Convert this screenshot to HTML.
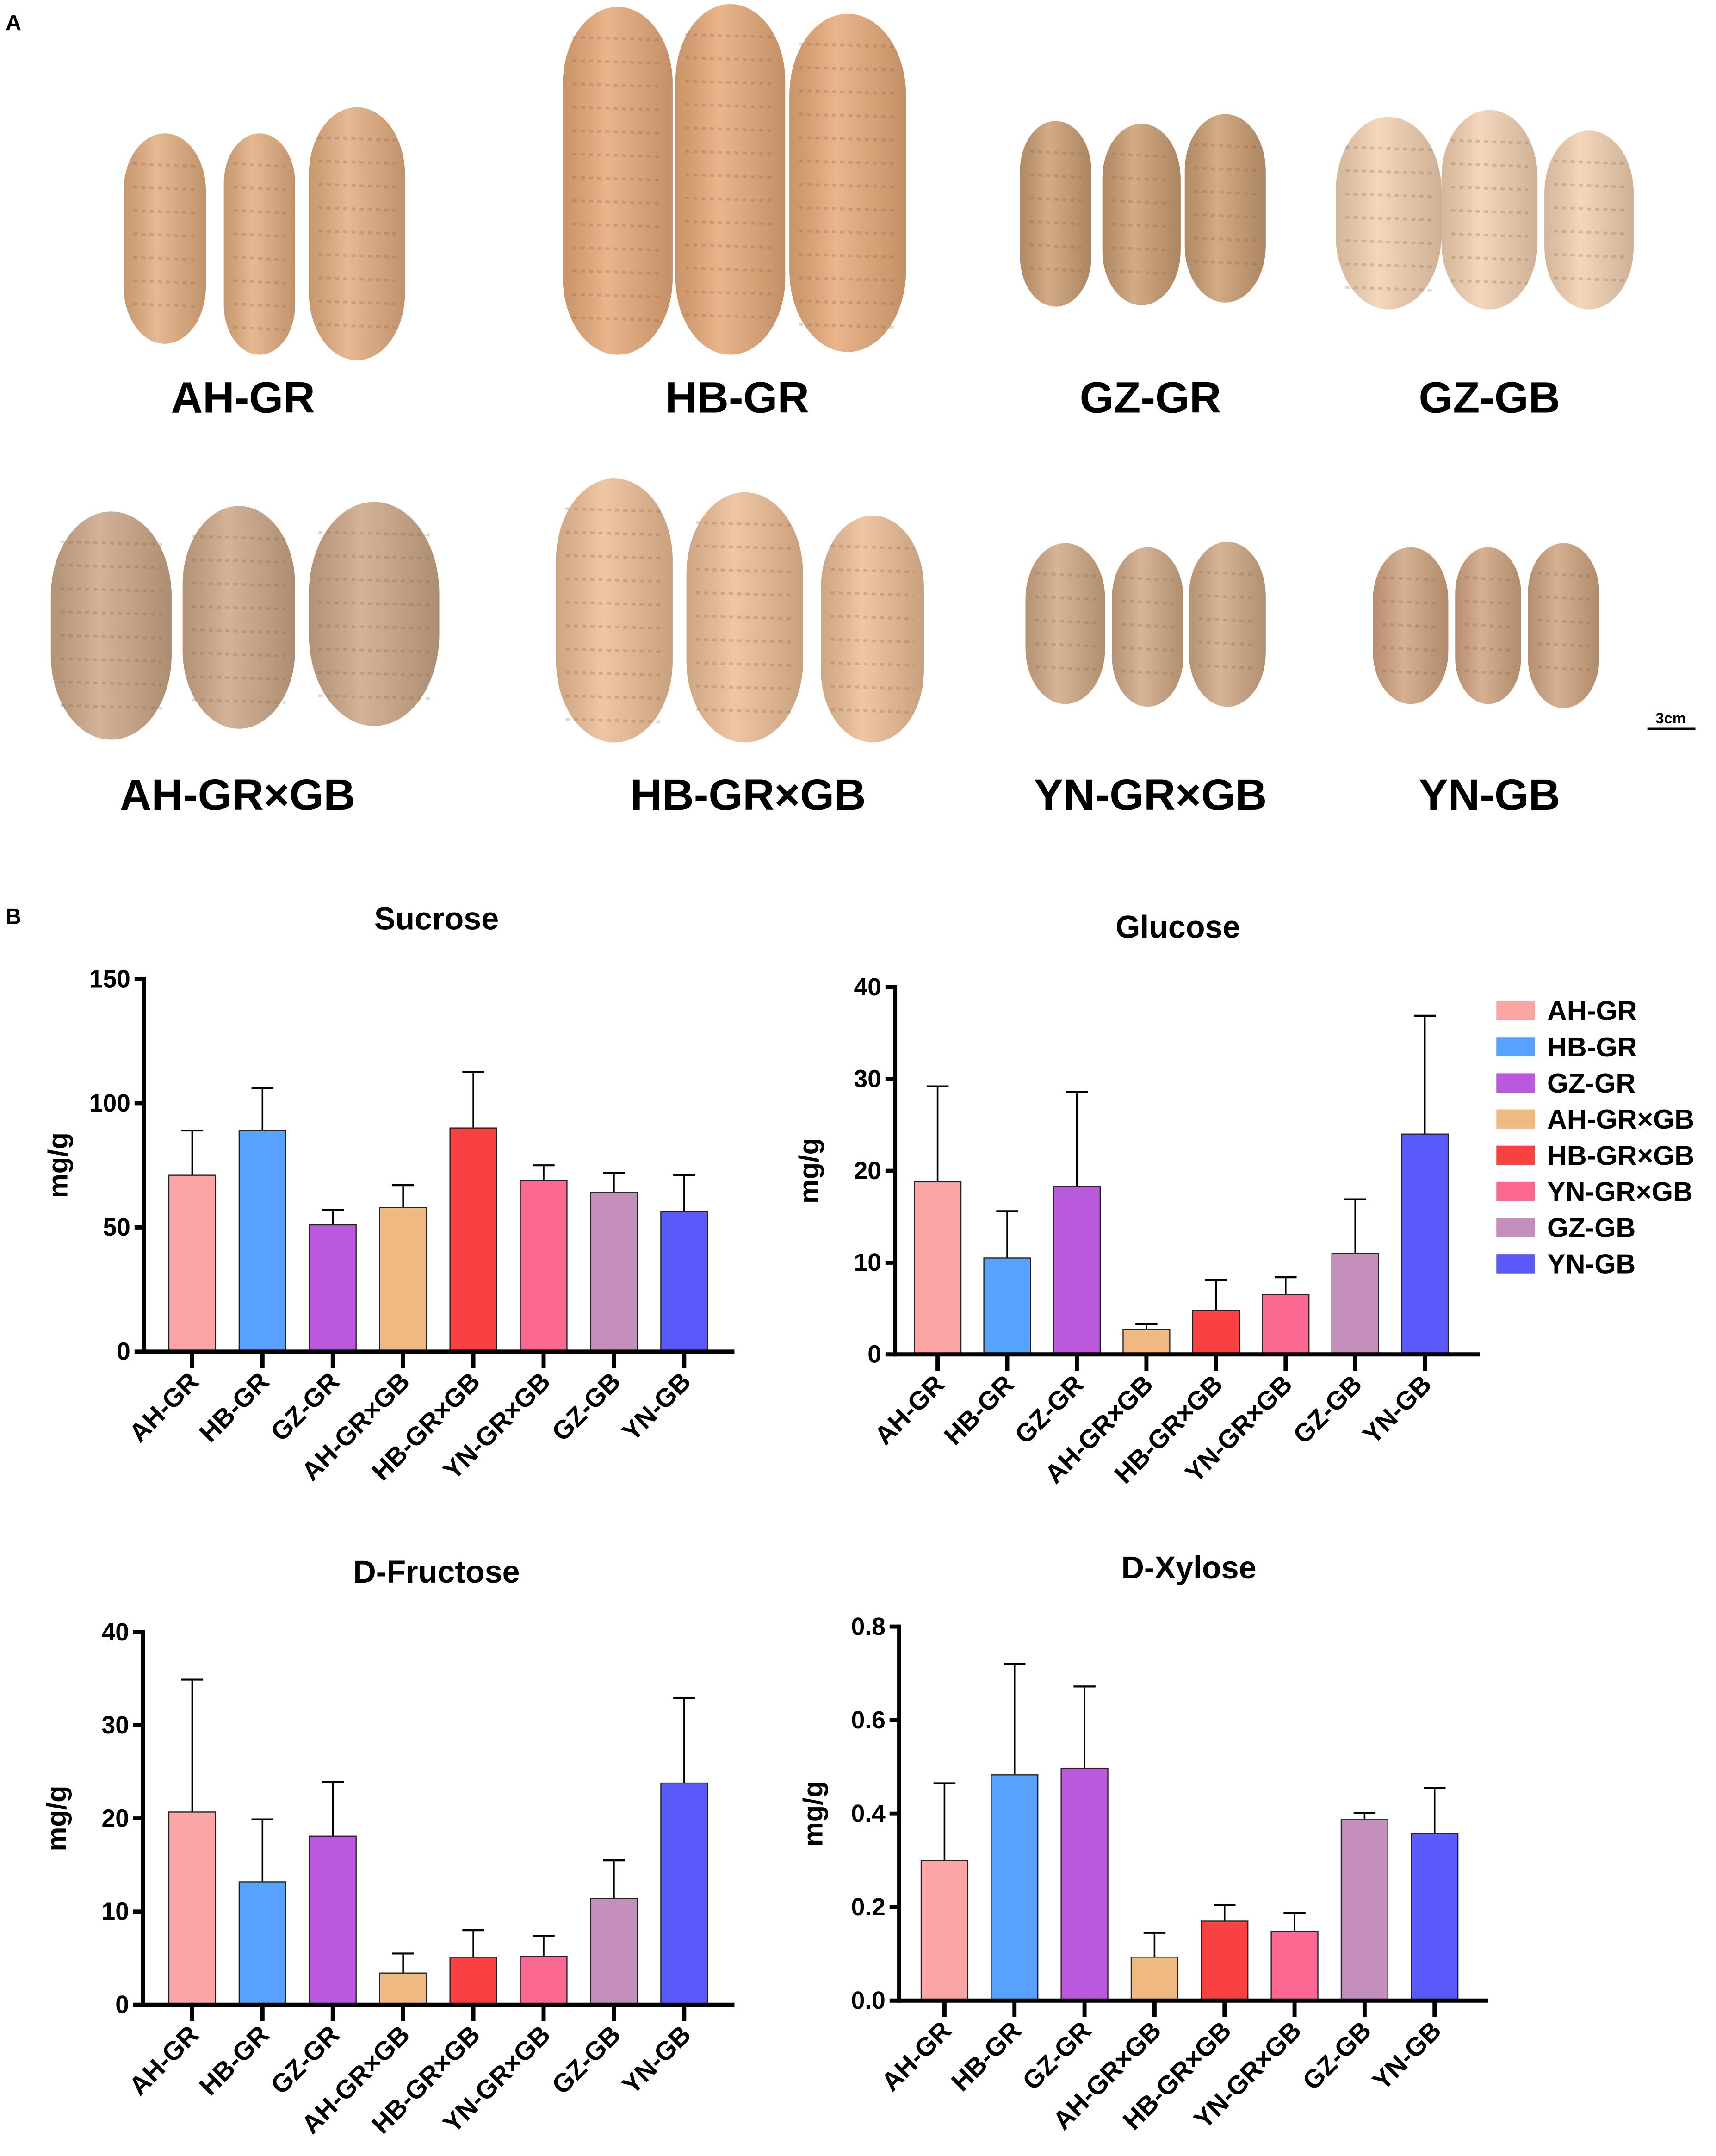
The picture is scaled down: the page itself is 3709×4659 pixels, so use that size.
<!DOCTYPE html>
<html><head><meta charset="utf-8"><style>
html,body{margin:0;padding:0;background:#fff}
svg{display:block}
text{font-family:"Liberation Sans",Arial,sans-serif;font-weight:bold}
</style></head><body>
<svg id="fig" width="3709" height="4659" viewBox="0 0 1250 1568" preserveAspectRatio="none" xmlns="http://www.w3.org/2000/svg">
<defs>
<linearGradient id="tg" x1="0" x2="1" y1="0" y2="0"><stop offset="0" stop-color="#000" stop-opacity="0.12"/><stop offset="0.4" stop-color="#fff" stop-opacity="0.15"/><stop offset="1" stop-color="#000" stop-opacity="0.15"/></linearGradient>
</defs>
<text x="4" y="22" font-size="16">A</text>
<text x="4" y="672" font-size="16">B</text>
<g id="photos"></g>
<g id="charts"></g>
</svg>
<script>
const NS="http://www.w3.org/2000/svg";
function mk(tag,attrs,parent,txt){const e=document.createElementNS(NS,tag);for(const k in attrs)e.setAttribute(k,attrs[k]);if(txt!==undefined)e.textContent=txt;parent.appendChild(e);return e;}
const photos=document.getElementById('photos');
const tubers=[
 ["AH-GR",177,300,"#e2ad7f",[[90,97,150,250],[163,97,215,258],[225,78,295,262]]],
 ["HB-GR",537,300,"#e6a877",[[410,5,490,258],[492,3,572,258],[575,10,660,256]]],
 ["GZ-GR",838,300,"#c99d72",[[743,88,795,223],[803,90,860,222],[863,83,922,220]]],
 ["GZ-GB",1085,300,"#f2d0b0",[[973,85,1050,225],[1050,80,1120,225],[1125,95,1190,225]]],
 ["AH-GR×GB",173,589,"#cca686",[[37,372,125,538],[133,368,215,530],[225,365,320,528]]],
 ["HB-GR×GB",545,589,"#ebbd95",[[405,348,490,540],[500,358,585,540],[598,375,673,540]]],
 ["YN-GR×GB",838,589,"#d0a784",[[747,395,805,512],[810,398,862,514],[866,394,922,514]]],
 ["YN-GB",1085,589,"#cfa37e",[[1000,398,1055,512],[1060,398,1108,512],[1113,395,1165,515]]]
];
tubers.forEach(t=>{
 const g=mk('g',{},photos);
 
 
 t[4].forEach(b=>{
  const w=b[2]-b[0],h=b[3]-b[1];
  const r=mk('rect',{x:b[0],y:b[1],width:w,height:h,rx:w/2,ry:Math.min(w*0.7,h/2),fill:t[3]},g);
  
  
  mk('rect',{x:b[0],y:b[1],width:w,height:h,rx:w/2,ry:Math.min(w*0.7,h/2),fill:'url(#tg)'},g);
  for(let yy=b[1]+22;yy<b[3]-14;yy+=17){mk('line',{x1:b[0]+7,x2:b[2]-7,y1:yy,y2:yy+2,stroke:'#8a5a3a','stroke-opacity':0.25,'stroke-width':2,'stroke-dasharray':'3 3'},g);}
 });
 const l=mk('text',{x:t[1],y:t[2],'font-size':32,'text-anchor':'middle'},photos,t[0]);
 
 
});
const sb=mk('text',{x:1217,y:526,'font-size':11,'text-anchor':'middle'},photos,'3cm');


mk('line',{x1:1200,x2:1235,y1:530,y2:530,stroke:'#000','stroke-width':1.5},photos);

// ---- chart data ----
const categories=["AH-GR","HB-GR","GZ-GR","AH-GR×GB","HB-GR×GB","YN-GR×GB","GZ-GB","YN-GB"];
const colors=["#fca5a5","#57a2fc","#bb59dd","#f1b982","#fa4141","#fb6993","#c48fbb","#5a59fa"];
const sucroseMean=[71,89,51,58,90,69,64,56.5];
const sucroseErr=[18,17,6,9,22.5,6,8,14.5];
const sucroseTicks=[0,50,100,150];
const glucoseMean=[18.8,10.5,18.3,2.7,4.8,6.5,11,24];
const glucoseErr=[10.4,5.1,10.3,0.6,3.3,1.9,5.9,12.9];
const glucoseTicks=[0,10,20,30,40];
const fructoseMean=[20.7,13.2,18.1,3.4,5.1,5.2,11.4,23.8];
const fructoseErr=[14.2,6.7,5.8,2.1,2.9,2.2,4.1,9.1];
const fructoseTicks=[0,10,20,30,40];
const xyloseMean=[0.30,0.483,0.497,0.093,0.17,0.148,0.387,0.357];
const xyloseErr=[0.165,0.237,0.175,0.052,0.035,0.04,0.015,0.098];
const xyloseTicks=["0.0","0.2","0.4","0.6","0.8"];

const charts=document.getElementById('charts');
function drawChart(o){
 const g=mk('g',{},charts);
 
 
 const tmax=parseFloat(o.ticks[o.ticks.length-1]);
 const ys=v=>o.y0-(v/tmax)*(o.y0-o.yTop);
 const xs=i=>o.x0+o.first+i*o.step;
 const tt=mk('text',{x:o.tx,y:o.ty,'font-size':23,'text-anchor':'middle'},g,o.title);
 
 
 const yt=mk('text',{x:0,y:0,'font-size':20,'text-anchor':'middle',transform:`translate(${o.x0-56},${(o.y0+o.yTop)/2}) rotate(-90)`},g,'mg/g');
 
 
 o.mean.forEach((m,i)=>{
  const cx=xs(i),top=ys(m),et=ys(m+o.err[i]);
  const el=mk('line',{x1:cx,x2:cx,y1:top,y2:et,stroke:'#000','stroke-width':1.2},g);
  
  
  mk('line',{x1:cx-8,x2:cx+8,y1:et,y2:et,stroke:'#000','stroke-width':1.4},g);
  const b=mk('rect',{x:cx-17,y:top,width:34,height:o.y0-top,fill:colors[i],stroke:'#222','stroke-width':0.8},g);
  
  
  mk('line',{x1:cx,x2:cx,y1:o.y0,y2:o.y0+12,stroke:'#000','stroke-width':3},g);
  const lb=mk('text',{x:0,y:0,'font-size':19,'text-anchor':'end',transform:`translate(${cx+6},${o.y0+23}) rotate(-45)`},g,categories[i]);
  
  
 });
 o.ticks.forEach(t=>{
  const y=ys(parseFloat(t));
  mk('line',{x1:o.x0-7,x2:o.x0,y1:y,y2:y,stroke:'#000','stroke-width':3},g);
  const tl=mk('text',{x:o.x0-10,y:y+6,'font-size':18,'text-anchor':'end'},g,t);
  
  
 });
 const ya=mk('line',{x1:o.x0,x2:o.x0,y1:o.yTop-1.5,y2:o.y0+1.5,stroke:'#000','stroke-width':3},g);
 
 
 const xa=mk('line',{x1:o.x0-1.5,x2:o.xEnd,y1:o.y0,y2:o.y0,stroke:'#000','stroke-width':3},g);
 
 
}
drawChart({name:'sucrose-chart',title:'Sucrose',tx:318,ty:676,x0:105,first:35,step:51.2,xEnd:535,y0:983,yTop:712,ticks:sucroseTicks,mean:sucroseMean,err:sucroseErr});
drawChart({name:'glucose-chart',title:'Glucose',tx:858,ty:682,x0:652,first:31,step:50.7,xEnd:1078,y0:985,yTop:718,ticks:glucoseTicks,mean:glucoseMean,err:glucoseErr});
drawChart({name:'fructose-chart',title:'D-Fructose',tx:318,ty:1151,x0:104,first:36,step:51.2,xEnd:535,y0:1458,yTop:1187,ticks:fructoseTicks,mean:fructoseMean,err:fructoseErr});
drawChart({name:'xylose-chart',title:'D-Xylose',tx:866,ty:1148,x0:655,first:33,step:51,xEnd:1084,y0:1455,yTop:1183,ticks:xyloseTicks,mean:xyloseMean,err:xyloseErr});

const lg=mk('g',{},charts);


categories.forEach((c,i)=>{
 const y=735+i*26.3;
 const s=mk('rect',{x:1090,y:y-7,width:28,height:14,fill:colors[i]},lg);
 
 
 const t=mk('text',{x:1127,y:y+7,'font-size':20},lg,c);
 
 
});
</script>
</body></html>
